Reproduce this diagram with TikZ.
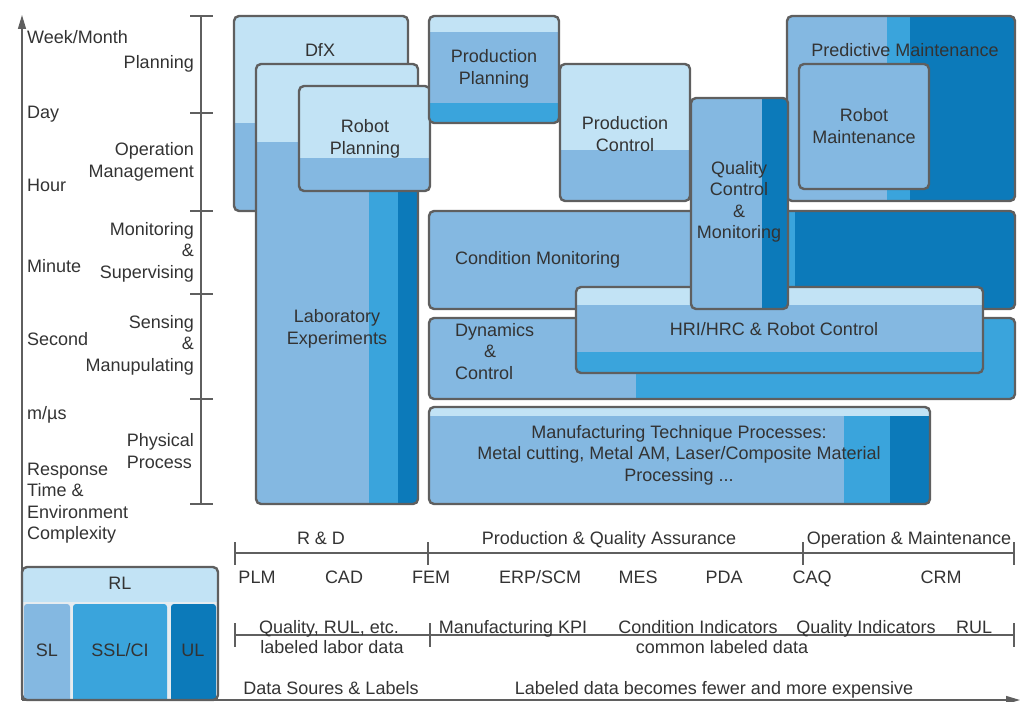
\documentclass[tikz,border=0pt]{standalone}
\usepackage{fontspec}
\setmainfont{Liberation Sans}
\usetikzlibrary{arrows.meta}
\definecolor{bxLt}{HTML}{C2E3F5}
\definecolor{bxMd}{HTML}{84B8E1}
\definecolor{bxBl}{HTML}{3AA4DC}
\definecolor{bxDk}{HTML}{0C7ABA}
\definecolor{bd}{HTML}{5F5F5F}
\definecolor{tx}{HTML}{333333}
\definecolor{gapc}{HTML}{E6ECF0}
\tikzset{
  box/.style={draw=bd, line width=2.4pt, rounded corners=5pt},
  lbl/.style={text=tx, font=\fontsize{18}{21.5}\selectfont, inner sep=0pt, align=center, yshift=-2pt},
  oneline/.style={lbl, text height=12.9pt, text depth=3.8pt},
  axisline/.style={draw=bd, line width=1.3pt},
  tickline/.style={draw=bd, line width=1.6pt},
  axarrow/.style={-{Triangle[length=14pt,width=8pt]}},
}
\newcommand{\cbox}[5]{%
  \begin{scope}
    \clip[rounded corners=5pt] (#1,#2) rectangle (#3,#4);
    #5
  \end{scope}
  \draw[box] (#1,#2) rectangle (#3,#4);
}
\begin{document}
\begin{tikzpicture}[x=1pt,y=-1pt]
\useasboundingbox (0,0) rectangle (1024,701);

% axes
\coordinate (o) at (22,700);
\coordinate (ytop) at (22,15);
\coordinate (xend) at (1020,700);
\draw[axisline, axarrow] (o) -- (ytop);
\draw[axisline, axarrow] (o) -- (xend);

% left labels
\node[oneline, anchor=west] (wm) at (27,37) {Week/Month};
\node[oneline, anchor=west] (day) at (27,112) {Day};
\node[oneline, anchor=west] (hour) at (27,185) {Hour};
\node[oneline, anchor=west] (min) at (27,266) {Minute};
\node[oneline, anchor=west] (sec) at (27,339) {Second};
\node[oneline, anchor=west] (mus) at (27,413) {m/µs};
\node[lbl, anchor=west, align=left] (resp) at (27,501) {Response\\Time \&\\Environment\\Complexity};

\node[oneline, anchor=east] (plan) at (194,62) {Planning};
\node[lbl, anchor=east, align=right] (opm) at (194,160) {Operation\\Management};
\node[lbl, anchor=east, align=right] (mons) at (194,250) {Monitoring\\\&\\Supervising};
\node[lbl, anchor=east, align=right] (sens) at (194,343) {Sensing\\\&\\Manupulating};
\node[lbl, anchor=east, align=left] (phys) at (194,449) {Physical\\Process};

% time bracket
\coordinate (bt) at (201,16);
\coordinate (bb) at (201,504);
\draw[tickline] (bt) -- (bb);
\foreach \yy in {16,113,211,294,399,504}{
  \draw[tickline] (190,\yy) -- (213,\yy);
}

% boxes
\cbox{234}{16}{408}{211}{\fill[bxLt] (234,16) rectangle (408,123); \fill[bxMd] (234,123) rectangle (408,211);}
\node[oneline] (dfx) at (320,50) {DfX};

\cbox{256}{64}{418}{504}{\fill[bxLt] (256,64) rectangle (418,142); \fill[bxMd] (256,142) rectangle (369,504); \fill[bxBl] (369,142) rectangle (398,504); \fill[bxDk] (398,142) rectangle (418,504);}
\node[lbl] (lab) at (337,327) {Laboratory\\Experiments};

\cbox{299}{86}{430}{191}{\fill[bxLt] (299,86) rectangle (430,158); \fill[bxMd] (299,158) rectangle (430,191);}
\node[lbl] (rp) at (365,137) {Robot\\Planning};

\cbox{429}{16}{559}{123}{\fill[bxLt] (429,16) rectangle (559,32); \fill[bxMd] (429,32) rectangle (559,103); \fill[bxBl] (429,103) rectangle (559,123);}
\node[lbl] (pp) at (494,67) {Production\\Planning};

\cbox{560}{64}{690}{201}{\fill[bxLt] (560,64) rectangle (690,150); \fill[bxMd] (560,150) rectangle (690,201);}
\node[lbl] (pc) at (625,132) {Production\\Control};

\cbox{787}{16}{1015}{201}{\fill[bxMd] (787,16) rectangle (887,201); \fill[bxBl] (887,16) rectangle (910,201); \fill[bxDk] (910,16) rectangle (1015,201);}
\node[oneline] (pm) at (905,50) {Predictive Maintenance};

\cbox{799}{64}{929}{189}{\fill[bxMd] (799,64) rectangle (929,189);}
\node[lbl] (rm) at (864,124) {Robot\\Maintenance};

\cbox{429}{211}{1015}{309}{\fill[bxMd] (429,211) rectangle (780,309); \fill[bxBl] (780,211) rectangle (795,309); \fill[bxDk] (795,211) rectangle (1015,309);}
\node[oneline, anchor=west] (cmon) at (455,258) {Condition Monitoring};

\cbox{429}{318}{1015}{399}{\fill[bxMd] (429,318) rectangle (636,399); \fill[bxBl] (636,318) rectangle (1015,399);}
\node[oneline, anchor=west] (dyn1) at (455,330) {Dynamics};
\node[oneline] (dyn2) at (490,351) {\&};
\node[oneline, anchor=west] (dyn3) at (455,373) {Control};

\cbox{429}{407}{930}{504}{\fill[bxLt] (429,407) rectangle (930,416); \fill[bxMd] (429,416) rectangle (844,504); \fill[bxBl] (844,416) rectangle (890,504); \fill[bxDk] (890,416) rectangle (930,504);}
\node[lbl] (mtp) at (679,453) {Manufacturing Technique Processes:\\Metal cutting, Metal AM, Laser/Composite Material\\Processing ...};

\cbox{576}{287}{983}{373}{\fill[bxLt] (576,287) rectangle (983,305); \fill[bxMd] (576,305) rectangle (983,352); \fill[bxBl] (576,352) rectangle (983,373);}
\node[oneline] (hri) at (774,329) {HRI/HRC \& Robot Control};

\cbox{691}{98}{788}{309}{\fill[bxMd] (691,98) rectangle (762,309); \fill[bxDk] (762,98) rectangle (788,309);}
\node[lbl] (qc) at (739,200) {Quality\\Control\\\&\\Monitoring};

% legend
\cbox{22}{567}{218}{700}{\fill[gapc] (22,567) rectangle (218,700); \fill[bxLt] (22,567) rectangle (218,602);
  \fill[bxMd, rounded corners=3pt] (24,604) rectangle (70,702);
  \fill[bxBl, rounded corners=3pt] (73,604) rectangle (167,702);
  \fill[bxDk, rounded corners=3pt] (171,604) rectangle (216,702);}
\node[oneline] (rl) at (120,583) {RL};
\node[oneline] (sl) at (47,650) {SL};
\node[oneline] (ssl) at (120,650) {SSL/CI};
\node[oneline] (ul) at (193,650) {UL};

% bottom timeline 1
\coordinate (t1a) at (235,553);
\coordinate (t1b) at (1014,553);
\draw[tickline] (t1a) -- (t1b);
\foreach \xx in {235,428,803,1014}{
  \draw[tickline] (\xx,542) -- (\xx,565);
}
\node[oneline] (rd) at (321,538) {R \& D};
\node[oneline] (pqa) at (609,538) {Production \& Quality Assurance};
\node[oneline] (om) at (909,538) {Operation \& Maintenance};
\node[oneline] (plm) at (257,577) {PLM};
\node[oneline] (cad) at (344,577) {CAD};
\node[oneline] (fem) at (431,577) {FEM};
\node[oneline] (erp) at (540,577) {ERP/SCM};
\node[oneline] (mes) at (638,577) {MES};
\node[oneline] (pda) at (724,577) {PDA};
\node[oneline] (caq) at (812,577) {CAQ};
\node[oneline] (crm) at (941,577) {CRM};

% bottom timeline 2
\coordinate (t2a) at (235,635);
\coordinate (t2b) at (1014,635);
\draw[tickline] (t2a) -- (t2b);
\foreach \xx in {235,430,1014}{
  \draw[tickline] (\xx,623) -- (\xx,647);
}
\node[oneline] (qr) at (329,627) {Quality, RUL, etc.};
\node[oneline] (lld) at (332,647) {labeled labor data};
\node[oneline] (kpi) at (513,627) {Manufacturing KPI};
\node[oneline] (ci) at (698,627) {Condition Indicators};
\node[oneline] (qi) at (866,627) {Quality Indicators};
\node[oneline] (rul) at (974,627) {RUL};
\node[oneline] (cld) at (722,647) {common labeled data};

\node[oneline] (dsl) at (331,688) {Data Soures \& Labels};
\node[oneline] (ldf) at (714,688) {Labeled data becomes fewer and more expensive};
\end{tikzpicture}
\end{document}
